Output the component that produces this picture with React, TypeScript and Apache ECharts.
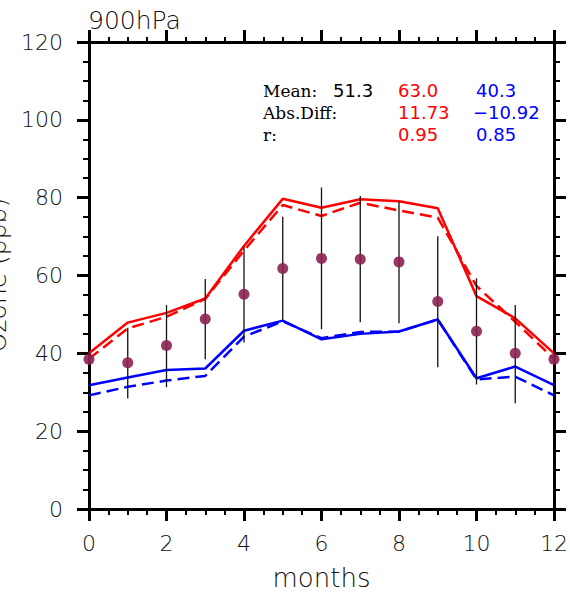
import React, { useEffect, useRef } from "react";
import * as echarts from "echarts";

const months = [0, 1, 2, 3, 4, 5, 6, 7, 8, 9, 10, 11, 12];
const redSolid = [40, 47.9, 50.4, 54.1, 67.6, 79.7, 77.4, 79.6, 79.1, 77.3, 54.7, 49, 40];
const redDashed = [38.6, 46.4, 49.4, 54, 66.4, 78.1, 75.3, 78.7, 76.7, 74.9, 57.3, 48.1, 38.6];
const blueSolid = [31.8, 33.8, 35.7, 36.1, 45.8, 48.4, 43.6, 45, 45.6, 48.7, 33.6, 36.6, 31.8];
const blueDashed = [29.2, 31.4, 33, 34.2, 44.3, 48.2, 43.9, 45.5, 45.6, 48.7, 33.3, 34, 29.2];
const obsMean = [38.5, 37.6, 42, 48.8, 55.2, 61.8, 64.4, 64.2, 63.5, 53.3, 45.7, 40, 38.5];
const obsLow = [null, 28.4, 31.3, 38.5, 42.8, 48.6, 46.2, 48, 47.7, 36.4, 32, 27.2, null];
const obsHigh = [null, 46.6, 52.4, 59.1, 67.4, 75.1, 82.6, 80.4, 79, 70.1, 59.3, 52.4, null];

const statLabels = ["Mean:", "Abs.Diff:", "r:"];
const obsStats = ["51.3", "", ""];
const redStats = ["63.0", "11.73", "0.95"];
const blueStats = ["40.3", "\u221210.92", "0.85"];

const title = "900hPa";
const xName = "months";
const yName = "Ozone (ppb)";

const SANS = "DejaVu Sans";
const SERIF = "DejaVu Serif";
const LIGHT = 200;
const TXT = "#111";

export default function App() {
  const ref = useRef<HTMLDivElement>(null);
  useEffect(() => {
    document.body.style.margin = "0";
    const chart = echarts.init(ref.current!, null, { renderer: "svg" });
    const pairs = (ys: number[]) => months.map((m, i) => [m, ys[i]]);
    const errData = months
      .map((m, i) => [m, obsLow[i], obsHigh[i]])
      .filter((d) => d[1] !== null);

    const axisCommon = {
      type: "value" as const,
      axisLine: { show: true, onZero: false, lineStyle: { color: "#000", width: 3 } },
      axisTick: { show: true, inside: false, length: 12, lineStyle: { color: "#000", width: 3 } },
      minorTick: { show: true, splitNumber: 4, length: 6, lineStyle: { color: "#000", width: 2 } },
      splitLine: { show: false },
      minorSplitLine: { show: false },
    };

    const rowY = [90.5, 112.5, 134.5];
    const graphics: any[] = [];
    statLabels.forEach((t, i) => {
      graphics.push({ type: "text", x: 263, y: rowY[i], style: { text: t, font: `17px "${SERIF}"`, fill: "#000", textVerticalAlign: "middle" } });
      if (obsStats[i]) graphics.push({ type: "text", x: 333, y: rowY[i], style: { text: obsStats[i], font: `18px "${SANS}"`, fill: "#000", textVerticalAlign: "middle" } });
      graphics.push({ type: "text", x: 398, y: rowY[i], style: { text: redStats[i], font: `18px "${SANS}"`, fill: "#ff0000", textVerticalAlign: "middle" } });
      graphics.push({ type: "text", x: i === 1 ? 473 : 476, y: rowY[i], style: { text: blueStats[i], font: `18px "${SANS}"`, fill: "#0000ff", textVerticalAlign: "middle" } });
    });
    graphics.push({ type: "text", x: 88, y: 20, style: { text: title, font: `${LIGHT} 25px "${SANS}"`, fill: TXT, textVerticalAlign: "middle" } });
    graphics.push({ type: "text", x: -3, y: 275, rotation: Math.PI / 2, style: { text: yName, font: `${LIGHT} 25px "${SANS}"`, fill: TXT, textAlign: "center", textVerticalAlign: "middle" } });

    chart.setOption({
      animation: false,
      grid: { left: 89, right: 16, top: 42, bottom: 85, containLabel: false, outerBoundsMode: "none" },
      xAxis: [
        {
          ...axisCommon,
          position: "bottom",
          min: 0,
          max: 12,
          interval: 2,
          axisLabel: { margin: 23, fontSize: 22, color: TXT, fontFamily: SANS, fontWeight: LIGHT },
          name: xName,
          nameLocation: "middle",
          nameGap: 56,
          nameTextStyle: { fontSize: 26, color: TXT, fontFamily: SANS, fontWeight: LIGHT },
        },
        {
          ...axisCommon,
          position: "top",
          min: 0,
          max: 12,
          interval: 2,
          minorTick: { ...axisCommon.minorTick, length: 5 },
          axisLabel: { show: false },
        },
      ],
      yAxis: [
        {
          ...axisCommon,
          position: "left",
          min: 0,
          max: 120,
          interval: 20,
          axisLabel: { margin: 26, fontSize: 22, color: TXT, fontFamily: SANS, fontWeight: LIGHT },
        },
        {
          ...axisCommon,
          position: "right",
          min: 0,
          max: 120,
          interval: 20,
          axisLabel: { show: false },
        },
      ],
      graphic: graphics,
      series: [
        { type: "line", data: pairs(redSolid), symbol: "none", lineStyle: { color: "#ff0000", width: 2.5 }, z: 3 },
        { type: "line", data: pairs(redDashed), symbol: "none", lineStyle: { color: "#ff0000", width: 2.5, type: [12, 6] }, z: 3 },
        { type: "line", data: pairs(blueSolid), symbol: "none", lineStyle: { color: "#0000ff", width: 2.5 }, z: 3 },
        { type: "line", data: pairs(blueDashed), symbol: "none", lineStyle: { color: "#0000ff", width: 2.5, type: [12, 6] }, z: 3 },
        {
          type: "custom",
          data: errData,
          z: 4,
          renderItem: (params: any, api: any) => {
            const p1 = api.coord([api.value(0), api.value(1)]);
            const p2 = api.coord([api.value(0), api.value(2)]);
            return { type: "line", shape: { x1: p1[0], y1: p1[1], x2: p2[0], y2: p2[1] }, style: { stroke: "#111", lineWidth: 1.3 } };
          },
        },
        {
          type: "scatter",
          data: pairs(obsMean),
          symbol: "circle",
          symbolSize: 11,
          clip: false,
          itemStyle: { color: "#8c2252", opacity: 0.9 },
          z: 5,
        },
      ],
    });
    return () => chart.dispose();
  }, []);
  return <div ref={ref} style={{ width: 570, height: 594 }} />;
}
